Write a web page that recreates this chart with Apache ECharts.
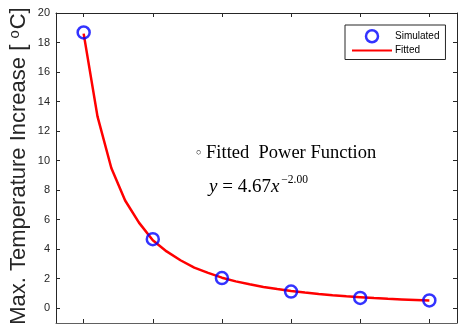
<!DOCTYPE html>
<html>
<head>
<meta charset="utf-8">
<script src="https://cdn.jsdelivr.net/npm/echarts@6/dist/echarts.min.js"></script>
<style>html,body{margin:0;padding:0;background:#fff}#c{width:458px;height:333px}</style>
</head>
<body>
<div id="c"></div>
<script>
// Simulated points
var simX = [0.5, 1.0, 1.5, 2.0, 2.5, 3.0];
var simY = [18.68, 4.68, 2.04, 1.13, 0.70, 0.53];
// Fitted curve
var fitX = [0.5, 0.6, 0.7, 0.8, 0.9, 1.0, 1.1, 1.2, 1.3, 1.4, 1.5, 1.6, 1.7, 1.8, 1.9, 2.0, 2.1, 2.2, 2.3, 2.4, 2.5, 2.6, 2.7, 2.8, 2.9, 3.0];
var fitY = [18.6, 13.0, 9.5, 7.3, 5.8, 4.6, 3.85, 3.25, 2.75, 2.4, 2.07, 1.82, 1.62, 1.44, 1.3, 1.17, 1.06, 0.96, 0.88, 0.81, 0.75, 0.69, 0.64, 0.6, 0.56, 0.52];
var xTicks = [0.5, 1.0, 1.5, 2.0, 2.5, 3.0];
var yTicks = [0, 2, 4, 6, 8, 10, 12, 14, 16, 18, 20];

var chart = echarts.init(document.getElementById('c'));
var axisCol = '#262626';
function xAxisDef(pos) {
  return {
    type: 'value', position: pos, min: 0.3, max: 3.2,
    axisLine: {show: true, onZero: false, lineStyle: {color: pos === 'bottom' ? '#606060' : axisCol, width: 1}},
    axisTick: {show: true, inside: true, length: 4, customValues: xTicks, lineStyle: {color: axisCol}},
    axisLabel: {show: false},
    splitLine: {show: false}
  };
}
function yAxisDef(pos) {
  return {
    type: 'value', position: pos, min: -1, max: 20,
    axisLine: {show: true, onZero: false, lineStyle: {color: axisCol, width: 1}},
    axisTick: {show: true, inside: true, length: 4, customValues: yTicks, lineStyle: {color: axisCol}},
    axisLabel: {show: pos === 'left', customValues: yTicks, color: '#262626', fontSize: 11, fontFamily: 'Liberation Sans, Arial', margin: 6},
    splitLine: {show: false}
  };
}
var simData = simX.map(function (x, i) { return [x, simY[i]]; });
var fitData = fitX.map(function (x, i) { return [x, fitY[i]]; });

chart.setOption({
  animation: false,
  grid: {left: 56, right: 1, top: 13, bottom: 10},
  xAxis: [xAxisDef('bottom'), xAxisDef('top')],
  yAxis: [yAxisDef('left'), yAxisDef('right')],
  legend: {
    left: 345, top: 25, orient: 'vertical',
    width: 102, padding: [4, 6, 4, 6], itemGap: 2,
    borderColor: '#262626', borderWidth: 1, backgroundColor: '#fff',
    itemWidth: 40, itemHeight: 12,
    textStyle: {fontSize: 10, fontFamily: 'Liberation Sans, Arial', color: '#000', padding: [0, 0, 0, -2]},
    data: [
      {name: 'Simulated', icon: 'circle', itemStyle: {color: '#fff', borderColor: '#0000ff', borderWidth: 2.5}},
      {name: 'Fitted', itemStyle: {opacity: 0, color: 'rgba(0,0,0,0)', borderWidth: 0}}
    ]
  },
  series: [
    {
      name: 'Fitted', type: 'line', data: fitData, symbol: 'none',
      lineStyle: {color: '#ff0000', width: 2.5}, itemStyle: {color: '#ff0000'}, z: 2
    },
    {
      name: 'Simulated', type: 'scatter', data: simData, symbol: 'circle', symbolSize: 12,
      itemStyle: {color: 'rgba(0,0,0,0)', borderColor: '#0000ff', borderWidth: 2.5}, z: 3
    }
  ],
  graphic: [
    {
      type: 'text', x: 19, y: 166, rotation: Math.PI / 2, silent: true,
      style: {
        text: '{a|Max. Temperature Increase [ }{s|o}{a|C]}',
        align: 'center', verticalAlign: 'middle',
        rich: {
          a: {fontSize: 22, fontFamily: 'Liberation Sans, Arial', fill: '#262626'},
          s: {fontSize: 15, fontFamily: 'Liberation Sans, Arial', fill: '#262626', padding: [0, 1, 8, 0]}
        }
      }
    },
    {
      type: 'text', x: 196, y: 153, silent: true,
      style: {
        text: '{c|○}{t| Fitted  Power Function}',
        verticalAlign: 'middle',
        rich: {
          c: {fontSize: 9, fontFamily: 'Liberation Serif, Times New Roman', fill: '#000'},
          t: {fontSize: 18.5, fontFamily: 'Liberation Serif, Times New Roman', fill: '#000'}
        }
      }
    },
    {
      type: 'text', x: 209, y: 187, silent: true,
      style: {
        text: '{i|y}{n| = 4.67}{i|x}{s|−2.00}',
        verticalAlign: 'middle',
        rich: {
          i: {fontSize: 19, fontStyle: 'italic', fontFamily: 'Liberation Serif, Times New Roman', fill: '#000'},
          n: {fontSize: 19, fontFamily: 'Liberation Serif, Times New Roman', fill: '#000'},
          s: {fontSize: 11.5, fontFamily: 'Liberation Serif, Times New Roman', fill: '#000', padding: [0, 0, 14, 2]}
        }
      }
    }
  ]
});
</script>
</body>
</html>
